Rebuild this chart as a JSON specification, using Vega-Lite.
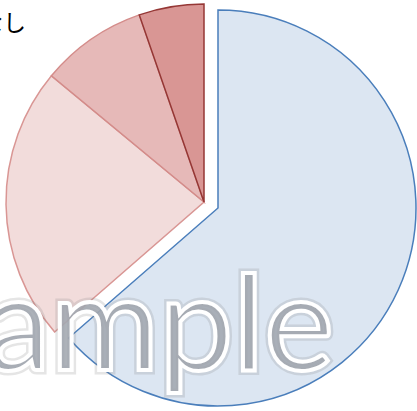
{
  "$schema": "https://vega.github.io/schema/vega-lite/v6.json",
  "width": 417,
  "height": 411,
  "autosize": {"type": "none"},
  "padding": 0,
  "background": "white",
  "view": {"stroke": null},
  "data": {"values": [
    {"cat": "A", "order": 1, "value": 63.6},
    {"cat": "B", "order": 2, "value": 22.4},
    {"cat": "C", "order": 3, "value": 8.7},
    {"cat": "D", "order": 4, "value": 5.3}
  ]},
  "transform": [
    {"stack": "value", "groupby": [], "sort": [{"field": "order", "order": "ascending"}], "as": ["v0", "v1"]}
  ],
  "layer": [
    {
      "transform": [{"filter": "datum.cat !== 'A'"}],
      "mark": {"type": "arc", "outerRadius": 198, "strokeWidth": 1.5, "xOffset": -4.5, "yOffset": -3.5},
      "encoding": {
        "theta": {"field": "v0", "type": "quantitative", "scale": {"domain": [0, 100]}},
        "theta2": {"field": "v1"},
        "fill": {"field": "cat", "type": "nominal", "scale": {"domain": ["A", "B", "C", "D"], "range": ["#dce6f2", "#f2dcdb", "#e6b9b8", "#d99694"]}, "legend": null},
        "stroke": {"field": "cat", "type": "nominal", "scale": {"domain": ["A", "B", "C", "D"], "range": ["#4a7ebb", "#d99694", "#d48c8a", "#953735"]}, "legend": null}
      }
    },
    {
      "transform": [{"filter": "datum.cat === 'A'"}],
      "mark": {"type": "arc", "outerRadius": 198, "strokeWidth": 1.5, "xOffset": 9.5, "yOffset": 2.5},
      "encoding": {
        "theta": {"field": "v0", "type": "quantitative", "scale": {"domain": [0, 100]}},
        "theta2": {"field": "v1"},
        "fill": {"field": "cat", "type": "nominal", "legend": null},
        "stroke": {"field": "cat", "type": "nominal", "legend": null}
      }
    },
    {
      "data": {"values": [{"label": "なし"}]},
      "mark": {"type": "text", "align": "right", "baseline": "alphabetic", "x": 26, "y": 31, "fontSize": 23, "font": "Noto Sans CJK JP", "color": "#000000"},
      "encoding": {"text": {"field": "label"}}
    },
    {
      "data": {"values": [{"label": "Sample"}]},
      "mark": {"type": "text", "align": "right", "baseline": "alphabetic", "x": 334, "y": 370, "fontSize": 132, "font": "Lato", "fill": "#9aa0aa", "fillOpacity": 0.75, "stroke": "#888888", "strokeWidth": 9, "strokeOpacity": 0.22},
      "encoding": {"text": {"field": "label"}}
    },
    {
      "data": {"values": [{"label": "Sample"}]},
      "mark": {"type": "text", "align": "right", "baseline": "alphabetic", "x": 334, "y": 370, "fontSize": 132, "font": "Lato", "fill": "#a9aeb6", "fillOpacity": 0.6, "stroke": "#ffffff", "strokeWidth": 4},
      "encoding": {"text": {"field": "label"}}
    }
  ]
}
